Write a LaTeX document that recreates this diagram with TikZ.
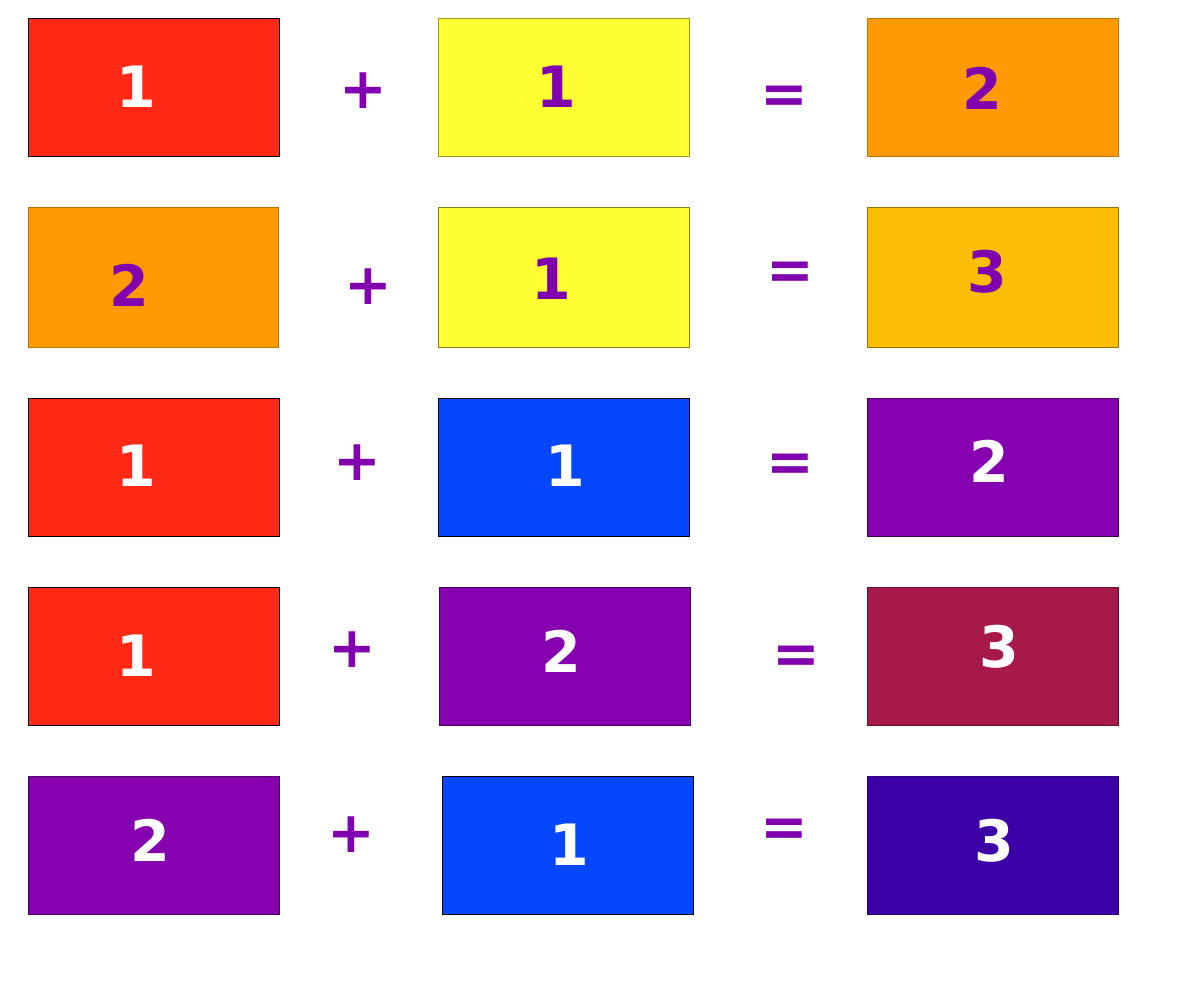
\documentclass[tikz,border=0pt]{standalone}
\usepackage{fontspec}
\setmainfont{DejaVu Sans}
\usetikzlibrary{calc}

\definecolor{tred}{RGB}{255,41,22}
\definecolor{tyellow}{RGB}{255,254,50}
\definecolor{torange}{RGB}{255,154,5}
\definecolor{tgold}{RGB}{252,189,5}
\definecolor{tblue}{RGB}{5,71,255}
\definecolor{tpurple}{RGB}{133,0,175}
\definecolor{tcrimson}{RGB}{166,25,74}
\definecolor{tindigo}{RGB}{59,0,166}
\definecolor{tink}{RGB}{128,0,176}

\newcommand*{\BigNum}{\bfseries\fontsize{57}{57}\selectfont}

\begin{document}
\begin{tikzpicture}[x=1pt,y=-1pt,
    digw/.style={text=white, inner sep=0pt, font=\BigNum},
    digp/.style={text=tink, inner sep=0pt, font=\BigNum},
    sign/.style={text=tink, inner sep=0pt, font=\BigNum},
    eqsign/.style={sign, yshift=-5pt}]
    \useasboundingbox (0,0) rectangle (1195,985);
    % row 1
    \draw[fill=tred, draw=black, line width=0.8pt] (28,18) rectangle (279,156);
    \node[digw] (a1) at (136,87) {1};
    \node[sign] (p1) at (363,91) {+};
    \draw[fill=tyellow, draw=tyellow!60!black, line width=0.8pt] (438,18) rectangle (689,156);
    \node[digp] (b1) at (556,87) {1};
    \node[eqsign] (e1) at (784,95) {=};
    \draw[fill=torange, draw=torange!75!black, line width=0.8pt] (867,18) rectangle (1118,156);
    \node[digp] (c1) at (982,88) {2};
    % row 2
    \draw[fill=torange, draw=torange!75!black, line width=0.8pt] (28,207) rectangle (278,347);
    \node[digp] (a2) at (129,285) {2};
    \node[sign] (p2) at (368,287) {+};
    \draw[fill=tyellow, draw=tyellow!50!black, line width=0.8pt] (438,207) rectangle (689,347);
    \node[digp] (b2) at (551,279) {1};
    \node[eqsign] (e2) at (790,271) {=};
    \draw[fill=tgold, draw=tgold!60!black, line width=0.8pt] (867,207) rectangle (1118,347);
    \node[digp] (c2) at (987,272) {3};
    % row 3
    \draw[fill=tred, draw=black, line width=0.8pt] (28,398) rectangle (279,536);
    \node[digw] (a3) at (136,466) {1};
    \node[sign] (p3) at (357,463) {+};
    \draw[fill=tblue, draw=black, line width=0.8pt] (438,398) rectangle (689,536);
    \node[digw] (b3) at (565,466) {1};
    \node[eqsign] (e3) at (790,463) {=};
    \draw[fill=tpurple, draw=tpurple!50!black, line width=0.8pt] (867,398) rectangle (1118,536);
    \node[digw] (c3) at (989,461) {2};
    % row 4
    \draw[fill=tred, draw=black, line width=0.8pt] (28,587) rectangle (279,725);
    \node[digw] (a4) at (136,656) {1};
    \node[sign] (p4) at (352,650) {+};
    \draw[fill=tpurple, draw=tpurple!50!black, line width=0.8pt] (439,587) rectangle (690,725);
    \node[digw] (b4) at (561,651) {2};
    \node[eqsign] (e4) at (796,655) {=};
    \draw[fill=tcrimson, draw=tcrimson!60!black, line width=0.8pt] (867,587) rectangle (1118,725);
    \node[digw] (c4) at (999,647) {3};
    % row 5
    \draw[fill=tpurple, draw=tpurple!60!black, line width=0.8pt] (28,776) rectangle (279,914);
    \node[digw] (a5) at (150,840) {2};
    \node[sign] (p5) at (351,835) {+};
    \draw[fill=tblue, draw=black, line width=0.8pt] (442,776) rectangle (693,914);
    \node[digw] (b5) at (569,845) {1};
    \node[eqsign] (e5) at (784,828) {=};
    \draw[fill=tindigo, draw=tindigo!70!black, line width=0.8pt] (867,776) rectangle (1118,914);
    \node[digw] (c5) at (994,841) {3};
\end{tikzpicture}
\end{document}
